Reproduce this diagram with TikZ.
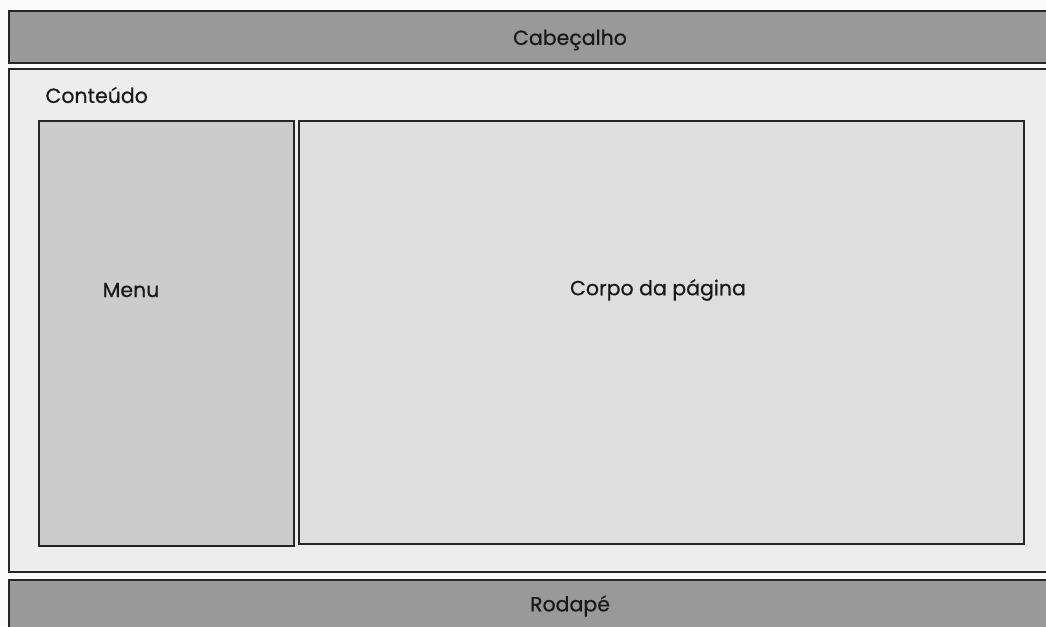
\documentclass[tikz,border=0pt]{standalone}
\usepackage{fontspec}
\setmainfont{Poppins}[FakeBold=0.6]

\begin{document}
\begin{tikzpicture}[x=1pt, y=-1pt,
		faixa/.style = {draw=black!85, line width=1.8pt, fill=black!40, anchor=north west, inner sep=0pt},
		caixa/.style = {draw=black!85, line width=1.8pt, anchor=north west, inner sep=0pt},
		rotulo/.style = {font=\fontsize{20.5}{24}\selectfont, text=black!90}]
		\useasboundingbox (0,0) rectangle (1046,626);
		\clip (0,0) rectangle (1046,626);
		\fill[black!2] (0,0) rectangle (1046,626);
		
		% faixas de cima e de baixo
		\node [faixa, minimum width=1124pt, minimum height=52pt] (cabecalho) at (8,10) {};
		\node [faixa, minimum width=1124pt, minimum height=52pt] (rodape) at (8,579) {};
		
		% area do conteudo
		\node [caixa, fill=black!7, minimum width=1124pt, minimum height=503pt] (conteudo) at (8,68) {};
		\node [caixa, fill=black!20, minimum width=255pt, minimum height=425pt] (menu) at (38,120) {};
		\node [caixa, fill=black!13, minimum width=725pt, minimum height=423pt] (corpo) at (298,120) {};
		
		\node [rotulo] (tcabecalho) at (570,40) {Cabeçalho};
		\node [rotulo] (trodape) at (570,606) {Rodapé};
		\node [rotulo, anchor=west] (tconteudo) at (42,95) {Conteúdo};
		\node [rotulo] (tmenu) at (131,290) {Menu};
		\node [rotulo] (tcorpo) at (658,290) {Corpo da página};
	\end{tikzpicture}
\end{document}
